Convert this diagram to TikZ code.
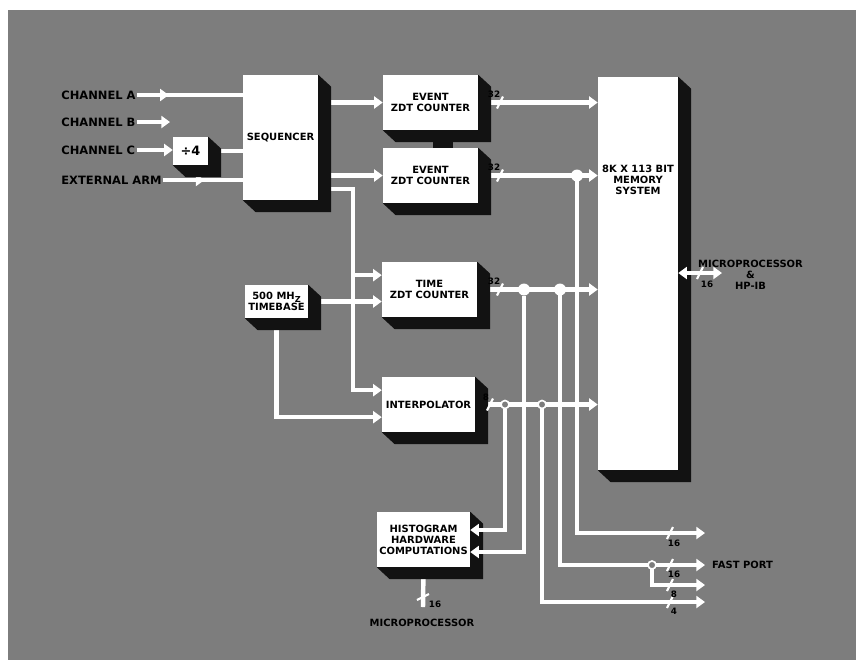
\documentclass[tikz,border=0pt]{standalone}
\usepackage{fontspec}
\setsansfont{DejaVu Sans}
\usepackage{tikz}
\usetikzlibrary{arrows.meta,positioning,calc,decorations.markings}
\definecolor{paper}{RGB}{125,125,125}
\definecolor{darkcast}{RGB}{18,18,18}
\pgfdeclarelayer{back}
\pgfdeclarelayer{wires}
\pgfsetlayers{back,wires,main}

\begin{document}
\begin{tikzpicture}[
    x=0.3mm, y=-0.3mm,
    >={Triangle[length=2.6mm,width=3.6mm]},
    txt/.style={font=\sffamily\bfseries\fontsize{8.5}{9.5}\selectfont, align=center, inner sep=0pt},
    inp/.style={font=\sffamily\bfseries\fontsize{9.8}{10}\selectfont, anchor=west, inner sep=1pt},
    box/.style={rectangle, fill=white, txt, minimum width=28.5mm, minimum height=16.5mm},
    wire/.style={draw=white, line width=3.8pt},
    bw/.style={font=\sffamily\bfseries\fontsize{7.5}{8}\selectfont, inner sep=0pt},
    busmark/.style={draw=white, line width=1.8pt},
    jdot/.style={circle, fill=white, inner sep=0pt, minimum size=3.6mm},
    jring/.style={circle, draw=white, fill=paper, line width=1.4pt, inner sep=0pt, minimum size=2.4mm},
    midarrow/.style={postaction={decorate, decoration={markings, mark=at position #1 with {\arrow[white]{>}}}}}
]
    \useasboundingbox (0,0) rectangle (856,660);
    \begin{pgfonlayer}{back}
        \fill[white] (0,0) rectangle (856,660);
        \fill[paper] (8,10) rectangle (856,660);
    \end{pgfonlayer}

    % Inputs
    \node[inp] (chA) at (60,95) {CHANNEL A};
    \node[inp] (chB) at (60,122) {CHANNEL B};
    \node[inp] (chC) at (60,150) {CHANNEL C};
    \node[inp] (arm) at (60,180) {EXTERNAL ARM};
    \coordinate (chBend) at (170,122);

    % Blocks
    \node[box, minimum width=10.5mm, minimum height=8.4mm, font=\sffamily\bfseries\fontsize{11}{12}\selectfont] (div) at (190.5,151) {÷4};
    \node[box, minimum width=22.5mm, minimum height=37.5mm] (seq) at (280.5,137.5) {SEQUENCER};
    \node[box] (ecA) at (430.5,102.5) {EVENT\\ZDT COUNTER};
    \node[box] (ecB) at (430.5,175.5) {EVENT\\ZDT COUNTER};
    \node[box, minimum width=18.9mm, minimum height=9.9mm] (tb) at (276.5,301.5) {500 MH\raisebox{-.5ex}{\scriptsize Z}\\TIMEBASE};
    \node[box] (tc) at (429.5,289.5) {TIME\\ZDT COUNTER};
    \node[box, minimum width=27.9mm] (ip) at (428.5,404.5) {INTERPOLATOR};
    \node[box, minimum width=27.9mm] (hg) at (423.5,539.5) {HISTOGRAM\\HARDWARE\\COMPUTATIONS};
    \node[box, minimum width=24mm, minimum height=117.9mm] (mem) at (638,273.5) {};
    \node[txt] (memtxt) at (638,180) {8K X 113 BIT\\MEMORY\\SYSTEM};

    % Shadows
    \foreach \n in {div,seq,ecA,ecB,tb,tc,ip,hg,mem}
        \fill[darkcast] (\n.south west) -- ([shift={(13,12)}]\n.south west) -- ([shift={(13,12)}]\n.south east)
            -- ([shift={(13,12)}]\n.north east) -- (\n.north east) -- (\n.south east) -- cycle;
    \fill[darkcast] (433,130) rectangle (453,148);

    % Bus columns
    \coordinate (vA) at (505,0);
    \coordinate (vB) at (524,0);
    \coordinate (vC) at (542,0);
    \coordinate (vD) at (560,0);
    \coordinate (vE) at (577,0);
    \coordinate (oE) at (705,533);
    \coordinate (oD) at (705,565);
    \coordinate (oDD) at (705,585);
    \coordinate (oC) at (705,602);
    \coordinate (sdrop) at (353,189);
    \coordinate (mpB) at (423,607);
    \coordinate (mpR) at (722,273);

    % Junctions
    \node[jdot] (jE) at (ecB.east -| vE) {};
    \node[jdot] (jB) at (tc.east -| vB) {};
    \node[jdot] (jD) at (tc.east -| vD) {};
    \node[jring] (jA) at (ip.east -| vA) {};
    \node[jring] (jC) at (ip.east -| vC) {};
    \node[jring] (jF) at (oD -| 652,0) {};

    \begin{pgfonlayer}{wires}
        % Inputs to sequencer
        \draw[wire, midarrow=0.3] (chA.east) -- (chA.east -| seq.west);
        \draw[wire, ->] (chB.east) -- (chBend);
        \draw[wire, ->] (chC.east) -- (chC.east -| div.west);
        \draw[wire] (div.east) -- (div.east -| seq.west);
        \draw[wire, midarrow=0.52] (arm.east) -- (arm.east -| seq.west);
        % Sequencer to counters
        \draw[wire, ->] (seq.east |- ecA.west) -- (ecA.west);
        \draw[wire, ->] (seq.east |- ecB.west) -- (ecB.west);
        \draw[wire, ->] (seq.east |- sdrop) -- (sdrop) |- ([yshift=4.3mm]ip.west);
        \draw[wire, ->] ([yshift=4.3mm]tc.west -| sdrop) -- ([yshift=4.3mm]tc.west);
        % Timebase
        \draw[wire, ->] (tb.east) -- (tb.east -| tc.west);
        \draw[wire, ->] (tb.south) |- ([yshift=-3.8mm]ip.west);
        % Into memory
        \draw[wire, ->] (ecA.east) -- (ecA.east -| mem.west);
        \draw[wire, ->] (ecB.east) -- (ecB.east -| mem.west);
        \draw[wire, ->] (tc.east) -- (tc.east -| mem.west);
        \draw[wire, ->] (ip.east) -- (ip.east -| mem.west);
        % Fast port
        \draw[wire, ->] (jE.center) |- (oE);
        \draw[wire, ->] (jD.center) |- (oD);
        \draw[wire, ->] (jF.center) |- (oDD);
        \draw[wire, ->] (jC.center) |- (oC);
        % Histogram down
        \draw[wire] (hg.south) -- (mpB);
    \end{pgfonlayer}

    % Histogram inputs, memory port
    \draw[wire, ->] (jA.south) |- ([yshift=2.85mm]hg.east);
    \draw[wire, ->] (jB.south) |- ([yshift=-3.75mm]hg.east);
    \draw[wire, <->] (mem.east |- mpR) -- (mpR);

    % Bus marks
    \foreach \x/\y in {500/102.5, 500/175.5, 500/289.5, 490/404.5, 700/273, 670/533, 670/565, 670/585, 670/602}
        \draw[busmark] (\x-3,\y+6) -- (\x+3,\y-6);
    \draw[busmark] (417,600) -- (429,594);
    \node[bw] (bwA) at (494,94) {32};
    \node[bw] (bwB) at (494,167) {32};
    \node[bw] (bwC) at (494,281) {32};
    \node[bw] (bwD) at (486,397) {8};
    \node[bw] (bwM) at (707,284) {16};
    \node[bw] (bwH) at (435,604) {16};
    \node[bw] (bwE) at (674,543) {16};
    \node[bw] (bwF) at (674,574) {16};
    \node[bw] (bwG) at (674,594) {8};
    \node[bw] (bwK) at (674,611) {4};

    % Outside labels
    \node[txt, anchor=west] (mpuR) at (698,275) {MICROPROCESSOR\\\&\\HP-IB};
    \node[txt, anchor=west] (fast) at (712,565) {FAST PORT};
    \node[txt] (mpuB) at (422,623) {MICROPROCESSOR};
\end{tikzpicture}
\end{document}
